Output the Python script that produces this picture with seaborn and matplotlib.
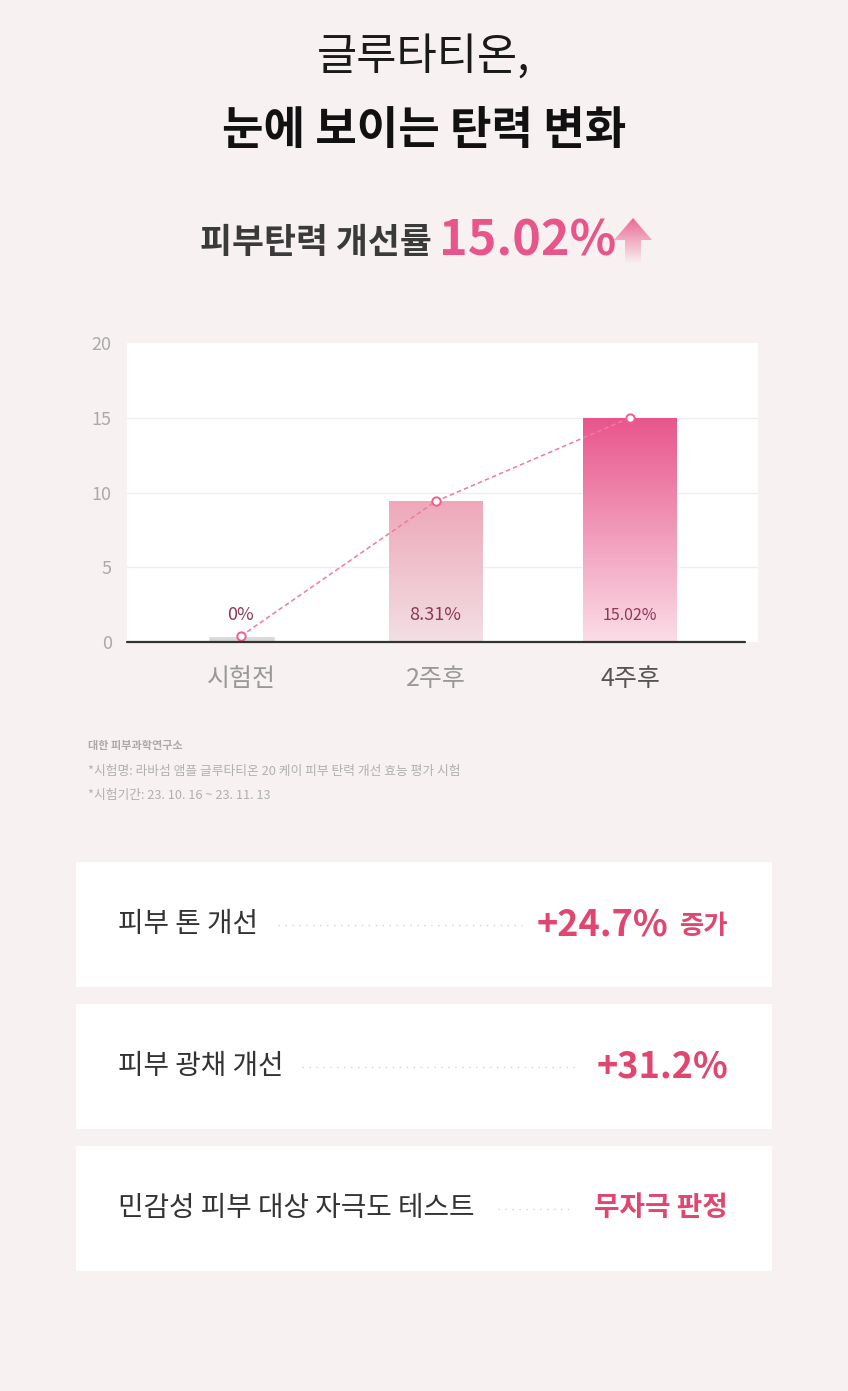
import numpy as np
import pandas as pd
import matplotlib
matplotlib.use("Agg")
import matplotlib.pyplot as plt
from matplotlib.colors import LinearSegmentedColormap
from matplotlib.patches import Rectangle, Polygon
import seaborn as sns

# ---------------- data ----------------
categories = ["시험전", "2주후", "4주후"]
bar_values = [0.4, 9.4, 15.0]
line_values = [0.4, 9.4, 15.0]
value_labels = ["0%", "8.31%", "15.02%"]
y_ticks = [0, 5, 10, 15, 20]

title_line1 = "글루타티온,"
title_line2 = "눈에 보이는 탄력 변화"
headline_text = "피부탄력 개선률"
headline_value = "15.02%"

footnotes = ["대한 피부과학연구소",
             "*시험명: 라바섬 앰플 글루타티온 20 케이 피부 탄력 개선 효능 평가 시험",
             "*시험기간: 23. 10. 16 ~ 23. 11. 13"]

box_labels = ["피부 톤 개선", "피부 광채 개선", "민감성 피부 대상 자극도 테스트"]
box_values = ["+24.7%", "+31.2%", "무자극 판정"]
box_suffix = ["증가", "", ""]

# ---------------- style ----------------
sns.set_theme(style="white")
plt.rcParams['font.family'] = ['Noto Sans CJK KR', 'DejaVu Sans']

W, H = 848, 1391
BG = "#f8f1f1"
PINK = "#e8558b"
PINK_TXT = "#e0466f"
fig = plt.figure(figsize=(W / 100, H / 100), dpi=100, facecolor=BG)

# overlay axes in pixel coordinates for text & boxes
ov = fig.add_axes([0, 0, 1, 1])
ov.set_xlim(0, W)
ov.set_ylim(H, 0)
ov.set_axis_off()
ov.set_zorder(0)

# ---------------- titles ----------------
ov.text(424, 58, title_line1, ha="center", va="center", fontsize=31.5, color="#1a1a1a")
ov.text(424, 131, title_line2, ha="center", va="center", fontsize=32.5, fontweight="bold", color="#111111")
ov.text(432, 243, headline_text, ha="right", va="center", fontsize=25, fontweight="bold", color="#3a3a3a")
ov.text(439, 241, headline_value, ha="left", va="center", fontsize=35, fontweight="bold", color=PINK)

# gradient arrow
arrow = Polygon([[633, 218], [652, 240], [641, 240], [641, 264], [625, 264], [625, 240], [614, 240]],
                closed=True, facecolor="none", edgecolor="none")
ov.add_patch(arrow)
acmap = LinearSegmentedColormap.from_list("arr", ["#ea6a96", "#f8f1f1"])
grad = np.linspace(0, 1, 100).reshape(-1, 1)
im = ov.imshow(grad, extent=[612, 654, 264, 218], aspect="auto", cmap=acmap, zorder=2)
im.set_clip_path(arrow)

# ---------------- chart ----------------
ax_l, ax_r, ax_t, ax_b = 127, 758, 343, 642
ax = fig.add_axes([ax_l / W, 1 - ax_b / H, (ax_r - ax_l) / W, (ax_b - ax_t) / H])
ax.set_zorder(1)
ax.set_facecolor("white")

df = pd.DataFrame({"cat": categories, "val": bar_values})
sns.barplot(data=df, x="cat", y="val", hue="cat", palette=["#d8d8d8", "#eea9ba", "#e8558b"],
            legend=False, width=0.483, ax=ax, zorder=2)

unit_px = 194.5
xlim = (-(241 - ax_l) / unit_px, 2 + (ax_r - 630) / unit_px)

grad_colors = [None, ("#f2dfe4", "#eea8b9"), ("#fbdde7", "#e8558b")]
for i, p in enumerate(ax.patches[:3]):
    if i == 0:
        w = 67 / unit_px
        cx = p.get_x() + p.get_width() / 2
        p.set_width(w)
        p.set_x(cx - w / 2)
        continue
    lo, hi = grad_colors[i]
    cm = LinearSegmentedColormap.from_list(f"g{i}", [lo, hi])
    x0, x1 = p.get_x(), p.get_x() + p.get_width()
    y1 = p.get_height()
    g = np.linspace(0, 1, 256).reshape(-1, 1)
    gi = ax.imshow(g, extent=[x0, x1, 0, y1], origin="lower", aspect="auto", cmap=cm, zorder=2.5)
    gi.set_clip_path(p)
    p.set_facecolor("none")

# grid lines
for yv in y_ticks[1:-1]:
    ax.axhline(yv, color="#eeeeee", lw=1, zorder=1)

# dashed trend line
sns.lineplot(x=[0, 1, 2], y=line_values, ax=ax, color="#f07aa0", lw=1.1, linestyle=(0, (3, 2)),
             marker="o", markersize=6, markerfacecolor="white", markeredgecolor="#ec5f8f",
             markeredgewidth=1.4, zorder=4)

# value labels
for i, lab in enumerate(value_labels):
    ax.text(i, 1.8, lab, ha="center", va="center", fontsize=13 if i < 2 else 11.5,
            color="#8b3a52", zorder=5)

# baseline
ax.axhline(0, xmin=0, xmax=(745 - ax_l) / (ax_r - ax_l), color="#333333", lw=1.6, zorder=5, clip_on=False)

ax.set_xlim(*xlim)
ax.set_ylim(0, 20)
ax.set_yticks(y_ticks)
ax.set_yticklabels([str(v) for v in y_ticks])
ax.tick_params(axis="y", length=0, pad=11, labelsize=13, labelcolor="#aaaaaa")
ax.tick_params(axis="x", length=0, pad=17, labelsize=18)
for i, t in enumerate(ax.get_xticklabels()):
    t.set_color("#555555" if i == 2 else "#999999")
ax.set_xlabel("")
ax.set_ylabel("")
for s in ["top", "right", "left", "bottom"]:
    ax.spines[s].set_visible(False)

# ---------------- footnotes ----------------
ov.text(88, 745, footnotes[0], ha="left", va="center", fontsize=8, fontweight="bold", color="#aaaaaa")
ov.text(88, 771, footnotes[1], ha="left", va="center", fontsize=9.2, color="#b0b0b0")
ov.text(88, 796, footnotes[2], ha="left", va="center", fontsize=9.2, color="#b0b0b0")

# ---------------- boxes ----------------
box_tops = [862, 1004, 1146]
box_h = 125
dot_ranges = [(278, 522), (302, 578), (498, 574)]
for i, top in enumerate(box_tops):
    ov.add_patch(Rectangle((76, top), 696, box_h, facecolor="white", edgecolor="none", zorder=1))
    cy = top + box_h / 2
    ov.text(118, cy, box_labels[i], ha="left", va="center", fontsize=20, color="#333333", zorder=3)
    d0, d1 = dot_ranges[i]
    ov.plot([d0, d1], [cy, cy], color="#d2d2d2", lw=1, linestyle=(0, (1, 4)), zorder=3)
    if box_suffix[i]:
        ov.text(728, cy + 2, box_suffix[i], ha="right", va="center", fontsize=19, fontweight="bold",
                color=PINK_TXT, zorder=3)
        ov.text(668, cy, box_values[i], ha="right", va="center", fontsize=26, fontweight="bold",
                color=PINK_TXT, zorder=3)
    else:
        fs = 26 if box_values[i].startswith("+") else 20
        ov.text(728, cy, box_values[i], ha="right", va="center", fontsize=fs, fontweight="bold",
                color=PINK_TXT, zorder=3)

fig.savefig("out.png", dpi=100, facecolor=BG)
